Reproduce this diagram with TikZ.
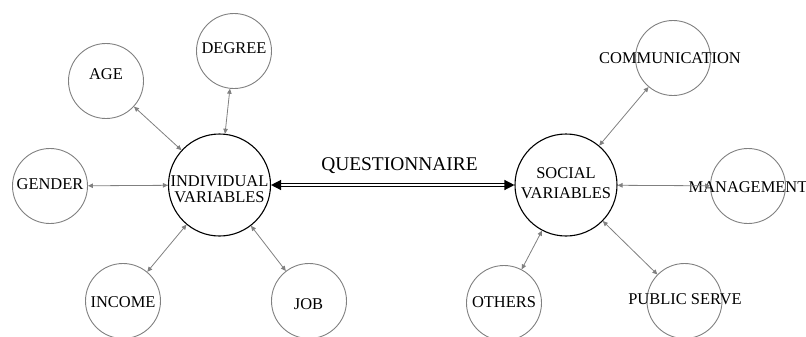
\documentclass[tikz,border=0pt]{standalone}
\usepackage{fontspec}
\setmainfont{Liberation Serif}
\usetikzlibrary{arrows.meta}

\begin{document}
\begin{tikzpicture}[x=1bp,y=-1bp,line cap=round,
  leaf/.style={circle,draw=gray,line width=0.9bp,minimum size=75bp,inner sep=0pt},
  hub/.style={circle,draw=black,line width=1.1bp,minimum size=102bp,inner sep=0pt},
  txt/.style={font=\fontsize{16.5}{12}\selectfont,align=center,inner sep=0pt},
  link/.style={gray,line width=0.8bp,{Triangle[length=5bp,width=4.5bp]}-{Triangle[length=5bp,width=4.5bp]}},
  main/.style={double,line width=1.3bp,double distance=1.4bp,{Triangle[length=10bp,width=10bp]}-{Triangle[length=10bp,width=10bp]}}]
\useasboundingbox (0,0) rectangle (806,336);
\clip (0,0) rectangle (806,336);
% the two hubs
\node[hub] (ind) at (219.5,185) {};
\node[txt,font=\fontsize{16.5}{16.5}\selectfont] (ind-t) at (219.5,189) {INDIVIDUAL\\VARIABLES};
\node[hub] (soc) at (566,185) {};
\node[txt,font=\fontsize{16.5}{19.5}\selectfont] (soc-t) at (566,183) {SOCIAL\\VARIABLES};
% individual side
\node[leaf] (age) at (106,81) {};
\node[txt] (age-t) at (106,74) {AGE};
\node[leaf] (deg) at (234,51) {};
\node[txt] (deg-t) at (234,48.5) {DEGREE};
\node[leaf] (gen) at (50,186) {};
\node[txt] (gen-t) at (50,184) {GENDER};
\node[leaf] (inc) at (123,301) {};
\node[txt] (inc-t) at (123,302) {INCOME};
\node[leaf] (job) at (309,301) {};
\node[txt] (job-t) at (308.5,304.5) {JOB};
% social side
\node[leaf] (com) at (673,58) {};
\node[txt] (com-t) at (670,58.5) {COMMUNICATION};
\node[leaf] (man) at (748,186) {};
\node[txt] (man-t) at (748,187) {MANAGEMENT};
\node[leaf] (oth) at (504,303) {};
\node[txt] (oth-t) at (504,302) {OTHERS};
\node[leaf] (pub) at (684.5,301) {};
\node[txt] (pub-t) at (685,299) {PUBLIC SERVE};
% links
\foreach \n in {age,deg,gen,inc,job}
  \draw[link] (ind) -- (\n);
\foreach \n in {com,man,oth,pub}
  \draw[link] (soc) -- (\n);
\draw[main] (ind) -- (soc);
\node[font=\fontsize{19.5}{20}\selectfont,inner sep=0pt] (q) at (399.5,166) {QUESTIONNAIRE};
\end{tikzpicture}
\end{document}
